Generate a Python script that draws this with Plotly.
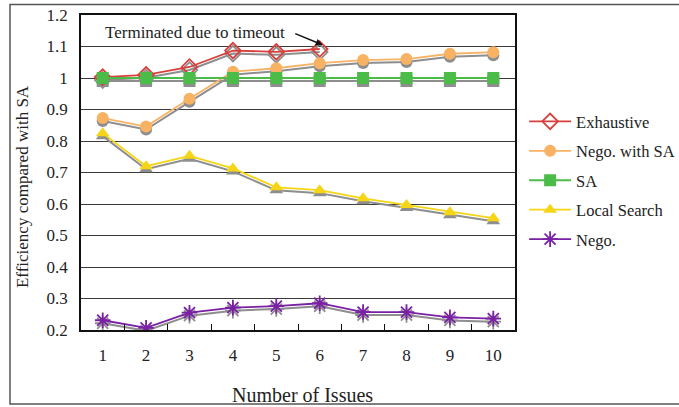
import plotly.graph_objects as go

issues = ["1", "2", "3", "4", "5", "6", "7", "8", "9", "10"]
exhaustive = [1.003, 1.010, 1.035, 1.087, 1.083, 1.092]
nego_with_sa = [0.873, 0.846, 0.934, 1.020, 1.031, 1.047, 1.057, 1.060, 1.077, 1.082]
sa = [1.0, 1.0, 1.0, 1.0, 1.0, 1.0, 1.0, 1.0, 1.0, 1.0]
local_search = [0.825, 0.720, 0.753, 0.713, 0.653, 0.644, 0.618, 0.597, 0.574, 0.555]
nego = [0.231, 0.207, 0.255, 0.271, 0.276, 0.285, 0.257, 0.257, 0.240, 0.236]

FONT = "'Liberation Serif', 'Times New Roman', serif"
TXT = "#222222"
SHADOW = "#8e8e8e"

def f(size):
    return dict(family=FONT, size=size, color=TXT)

series = [
    ("Exhaustive", exhaustive, "#d8403c", dict(symbol="diamond-open", size=12, line=dict(width=1.8, color="#d8403c"))),
    ("Nego. with SA", nego_with_sa, "#f7b264", dict(symbol="circle", size=12, color="#f7b264")),
    ("SA", sa, "#4cbc48", dict(symbol="square", size=12, color="#4cbc48")),
    ("Local Search", local_search, "#f5d515", dict(symbol="triangle-up", size=12, color="#f5d515")),
    ("Nego.", nego, "#7a20a4", dict(symbol="asterisk-open", size=13, line=dict(width=1.8, color="#7a20a4"))),
]

fig = go.Figure()

# shadows (drawn first, on shifted base axis)
for name, vals, col, mk in series:
    smk = dict(mk)
    smk["color"] = SHADOW
    if "line" in smk:
        smk["line"] = dict(width=mk["line"]["width"], color=SHADOW)
    fig.add_trace(go.Scatter(
        x=issues[:len(vals)], y=vals, mode="lines+markers",
        line=dict(color=SHADOW, width=2), marker=smk,
        xaxis="x", yaxis="y", showlegend=False, hoverinfo="skip"))

for i, (name, vals, col, mk) in enumerate(series):
    fig.add_trace(go.Scatter(
        x=issues[:len(vals)], y=vals, mode="lines+markers", name=name,
        line=dict(color=col, width=1.8), marker=mk,
        xaxis="x", yaxis="y2", legendgroup=f"g{i}"))

plot_h = 315.0
dy = 3.0 / plot_h  # shadow offset (3 px)

fig.update_layout(
    width=679, height=407,
    margin=dict(l=81, r=164, t=15, b=77, autoexpand=False),
    paper_bgcolor="white", plot_bgcolor="white",
    font=f(17),
    showlegend=True,
    legend=dict(x=1.021, y=0.717, xanchor="left", yanchor="top",
                font=f(16.5), tracegroupgap=5, itemwidth=42, bgcolor="rgba(0,0,0,0)"),
    xaxis=dict(type="category", range=[-0.5, 9.5], showgrid=False,
               showline=True, linecolor="#111", linewidth=1.5, mirror=True,
               ticks="inside", tickson="boundaries", ticklen=6, tickcolor="#111",
               ticklabelstandoff=9, tickfont=f(17), zeroline=False, automargin=False),
    yaxis=dict(range=[0.2 + dy, 1.2 + dy], visible=False, showgrid=False, zeroline=False),
    yaxis2=dict(range=[0.2, 1.2], overlaying="y", side="left",
                tickvals=[0.2, 0.3, 0.4, 0.5, 0.6, 0.7, 0.8, 0.9, 1.0, 1.1, 1.2],
                ticktext=["0.2", "0.3", "0.4", "0.5", "0.6", "0.7", "0.8", "0.9", "1", "1.1", "1.2"],
                showgrid=True, gridcolor="#3a3a3a", gridwidth=1.2,
                showline=True, linecolor="#111", linewidth=1.5, mirror=True,
                ticks="", ticklabelstandoff=8, tickfont=f(17), zeroline=False, automargin=False),
    shapes=[dict(type="rect", xref="paper", yref="paper",
                 x0=-0.1636, x1=1.385, y0=-0.235, y1=1.033,
                 line=dict(color="#555", width=1.5))],
    annotations=[
        dict(text="Terminated due to timeout", xref="paper", yref="paper",
             x=0.263, y=0.943, xanchor="center", yanchor="middle",
             showarrow=False, font=f(17)),
        dict(text="", xref="x", yref="y2", x=5.07, y=1.105,
             showarrow=True, arrowhead=2, arrowsize=1, arrowwidth=1.4, arrowcolor="#111",
             ax=-29, ay=-12),
        dict(text="Number of Issues", xref="paper", yref="paper",
             x=0.51, y=-0.207, xanchor="center", yanchor="middle",
             showarrow=False, font=f(20)),
        dict(text="Efficiency compared with SA", xref="paper", yref="paper",
             x=-0.135, y=0.455, xanchor="center", yanchor="middle", textangle=-90,
             showarrow=False, font=f(17)),
    ],
)

fig.write_html("out.html", config={"displayModeBar": False},
               post_script="document.body.style.margin='0';document.body.style.padding='0';")
